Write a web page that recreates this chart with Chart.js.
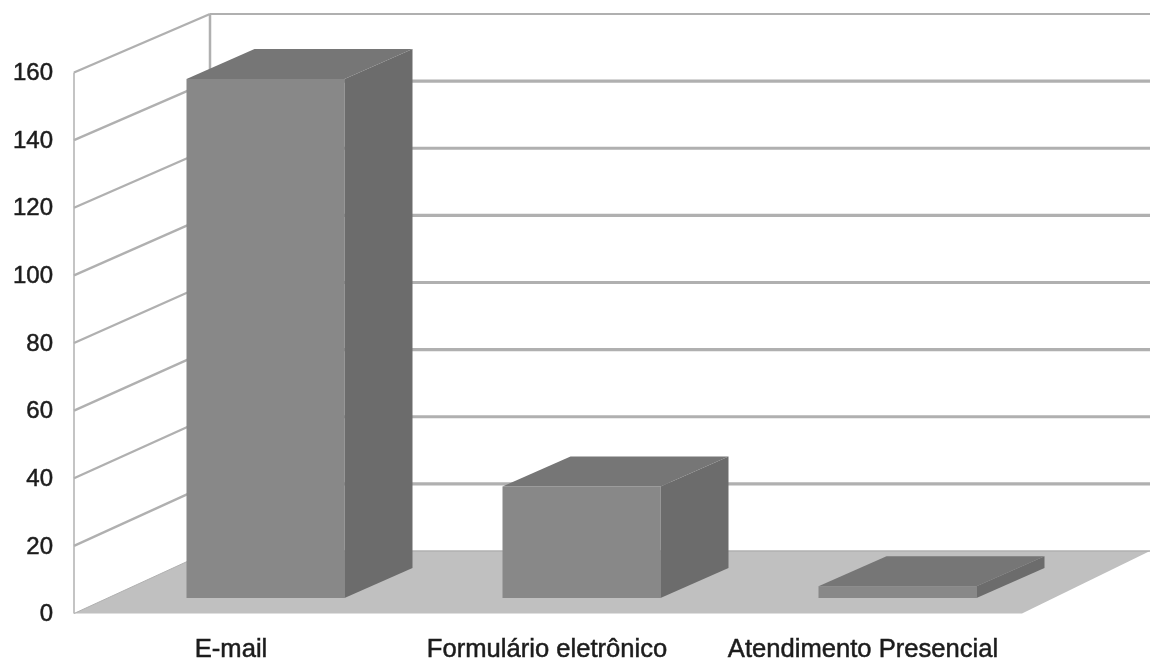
<!DOCTYPE html>
<html>
<head>
<meta charset="utf-8">
<title>Canais de atendimento</title>
<script src="https://cdn.jsdelivr.net/npm/chart.js@4"></script>
<style>
  html, body { margin: 0; padding: 0; background: #fff; }
  canvas { display: block; filter: blur(0.45px); }
</style>
</head>
<body>
<canvas id="chart" width="1150" height="661"></canvas>
<script>
var categories = ['E-mail', 'Formulário eletrônico', 'Atendimento Presencial'];
var values = [153.5, 33, 3.5];
var yTicks = [0, 20, 40, 60, 80, 100, 120, 140, 160];

// how far the back wall sits from the front plane, in pixels
var wallX = 136;
var wallTop = 14;
var wallBottom = 551;
// bars stand part way back on the floor and have their own depth
var barShiftX = 33.5;
var barShiftY = -15.5;
var barDepthX = 68;
var barDepthY = -30;

var threeD = {
    id: 'threeD',
    beforeDatasetsDraw: function (chart) {
        var ctx = chart.ctx;
        var y = chart.scales.y;
        var area = chart.chartArea;
        var y0 = y.getPixelForValue(0);
        var y1 = y.getPixelForValue(160);
        var back = function (py) {
            return wallBottom + (py - y0) * (wallBottom - wallTop) / (y0 - y1);
        };
        var backX = area.left + wallX;

        ctx.save();
        // floor
        ctx.fillStyle = '#c0c0c0';
        ctx.beginPath();
        ctx.moveTo(area.left, y0);
        ctx.lineTo(area.right, y0);
        ctx.lineTo(area.right + wallX - 8, back(y0));
        ctx.lineTo(backX, back(y0));
        ctx.closePath();
        ctx.fill();

        // walls
        ctx.strokeStyle = '#b0b0b0';
        yTicks.forEach(function (t) {
            var py = y.getPixelForValue(t);
            ctx.lineWidth = t === 0 ? 1 : 2.4;
            ctx.beginPath();
            ctx.moveTo(area.left, py);
            ctx.lineTo(backX, back(py));
            ctx.stroke();
            ctx.lineWidth = t === 0 ? 1.5 : (t === 160 ? 2.2 : 3.2);
            ctx.beginPath();
            ctx.moveTo(backX, back(py));
            ctx.lineTo(chart.width, back(py));
            ctx.stroke();
        });
        ctx.lineWidth = 1.5;
        ctx.beginPath();
        ctx.moveTo(area.left, y1);
        ctx.lineTo(area.left, y0);
        ctx.stroke();
        ctx.lineWidth = 2.5;
        ctx.beginPath();
        ctx.moveTo(backX, back(y1));
        ctx.lineTo(backX, back(y0));
        ctx.stroke();
        ctx.restore();
    },
    beforeDatasetDraw: function (chart) {
        chart.ctx.save();
        chart.ctx.translate(barShiftX, barShiftY);
    },
    afterDatasetDraw: function (chart, args) {
        var ctx = chart.ctx;
        args.meta.data.forEach(function (bar) {
            var l = bar.x - bar.width / 2;
            var r = bar.x + bar.width / 2;
            // top
            ctx.fillStyle = '#767676';
            ctx.beginPath();
            ctx.moveTo(l, bar.y);
            ctx.lineTo(l + barDepthX, bar.y + barDepthY);
            ctx.lineTo(r + barDepthX, bar.y + barDepthY);
            ctx.lineTo(r, bar.y);
            ctx.closePath();
            ctx.fill();
            // side
            ctx.fillStyle = '#6c6c6c';
            ctx.beginPath();
            ctx.moveTo(r, bar.y);
            ctx.lineTo(r + barDepthX, bar.y + barDepthY);
            ctx.lineTo(r + barDepthX, bar.base + barDepthY);
            ctx.lineTo(r, bar.base);
            ctx.closePath();
            ctx.fill();
        });
        ctx.restore();
    }
};

new Chart(document.getElementById('chart'), {
    type: 'bar',
    data: {
        labels: categories,
        datasets: [{
            data: values,
            backgroundColor: '#888888',
            categoryPercentage: 1,
            barPercentage: 0.5,
            clip: false
        }]
    },
    options: {
        responsive: false,
        animation: false,
        layout: { padding: { top: 72.5, right: 128, left: 0, bottom: 0 } },
        plugins: { legend: { display: false }, title: { display: false }, tooltip: { enabled: false } },
        scales: {
            x: {
                grid: { display: false, drawTicks: false },
                border: { display: false },
                afterFit: function (scale) { scale.height = 47.5; },
                ticks: {
                    color: '#1c1c1c', padding: 21, labelOffset: -1, maxRotation: 0, autoSkip: false,
                    textStrokeColor: '#1c1c1c', textStrokeWidth: 0.5,
                    font: { family: 'Liberation Sans', size: 25.6 }
                }
            },
            y: {
                min: 0,
                max: 160,
                grid: { display: false, drawTicks: false },
                border: { display: false },
                afterFit: function (scale) { scale.width = 74; },
                afterBuildTicks: function (scale) {
                    scale.ticks = yTicks.map(function (v) { return { value: v }; });
                },
                ticks: {
                    color: '#1c1c1c', padding: 21, labelOffset: 1,
                    textStrokeColor: '#1c1c1c', textStrokeWidth: 0.5,
                    font: { family: 'Liberation Sans', size: 24 }
                }
            }
        }
    },
    plugins: [threeD]
});
</script>
</body>
</html>
